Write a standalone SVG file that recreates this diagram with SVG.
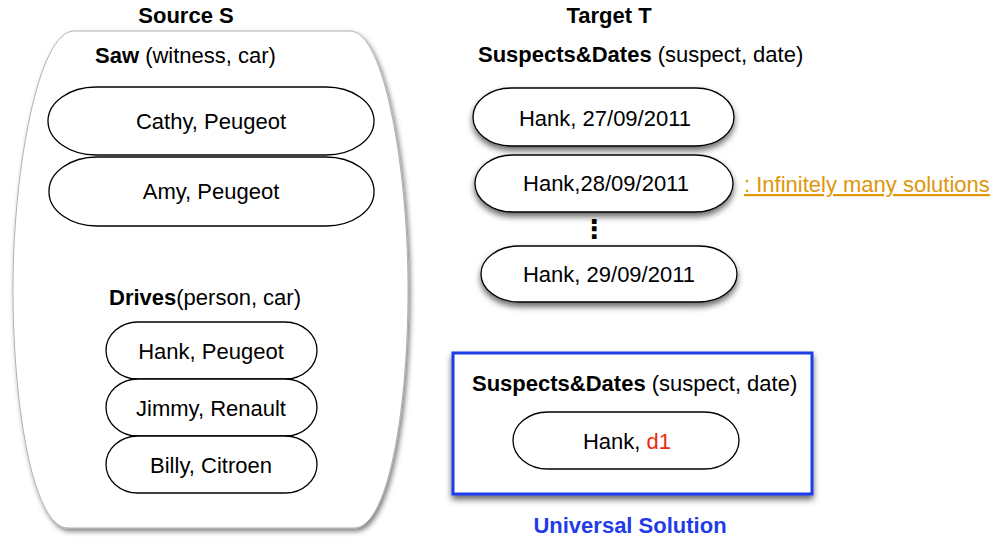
<svg xmlns="http://www.w3.org/2000/svg" width="996" height="539" viewBox="0 0 996 539">
  <style>
    text { font-family: "Liberation Sans", Arial, Helvetica, sans-serif; font-size: 22px; fill: #000; }
    .b { font-weight: bold; }
    .c { text-anchor: middle; }
    .vdots { font-family: "DejaVu Sans", sans-serif; font-weight: bold; font-size: 26px; }
    .tuple { fill: #fff; stroke: #000; stroke-width: 1.3; }
    .link { fill: #e0960a; text-decoration: underline; }
    .blue { fill: #1f3ce8; }
    .red { fill: #ee2a10; }
  </style>
  <defs>
    <filter id="softShadow" x="-10%" y="-10%" width="125%" height="125%">
      <feDropShadow dx="2" dy="3" stdDeviation="2.5" flood-color="#000" flood-opacity="0.5"/>
    </filter>
    <filter id="tupleShadow" x="-10%" y="-20%" width="120%" height="160%">
      <feDropShadow dx="0" dy="4" stdDeviation="3" flood-color="#000" flood-opacity="0.6"/>
    </filter>
  </defs>

  <!-- Source database -->
  <g id="source">
    <path d="M 74,31 H 350 C 385,31 407,170 408,280 C 409,400 390,528 354,528 H 68 C 32,528 12,400 13,280 C 14,170 38,31 74,31 Z"
          fill="#fff" stroke="#b0b0b0" stroke-width="1" filter="url(#softShadow)"/>
    <text class="b c" x="186" y="23">Source S</text>
  </g>

  <g id="saw">
    <text x="95" y="63"><tspan class="b">Saw</tspan> (witness, car)</text>
    <g id="saw-cathy">
      <rect class="tuple" x="48" y="87" width="326" height="68" rx="48" ry="34"/>
      <text class="c" x="211" y="129">Cathy, Peugeot</text>
    </g>
    <g id="saw-amy">
      <rect class="tuple" x="49" y="157" width="325" height="69" rx="48" ry="34"/>
      <text class="c" x="211" y="199">Amy, Peugeot</text>
    </g>
  </g>

  <g id="drives">
    <text x="109" y="305"><tspan class="b">Drives</tspan>(person, car)</text>
    <g id="drives-hank">
      <rect class="tuple" x="106" y="322" width="211" height="57" rx="32" ry="28.5"/>
      <text class="c" x="211" y="359">Hank, Peugeot</text>
    </g>
    <g id="drives-jimmy">
      <rect class="tuple" x="106" y="379" width="211" height="57" rx="32" ry="28.5"/>
      <text class="c" x="211" y="416">Jimmy, Renault</text>
    </g>
    <g id="drives-billy">
      <rect class="tuple" x="106" y="436" width="211" height="57" rx="32" ry="28.5"/>
      <text class="c" x="211" y="473">Billy, Citroen</text>
    </g>
  </g>

  <!-- Target database -->
  <g id="target">
    <text class="b c" x="609" y="23">Target T</text>
    <text x="478" y="62"><tspan class="b">Suspects&amp;Dates</tspan> (suspect, date)</text>
    <g id="target-27">
      <rect class="tuple" x="473" y="88" width="261" height="58" rx="38" ry="29" filter="url(#tupleShadow)"/>
      <text class="c" x="605" y="126">Hank, 27/09/2011</text>
    </g>
    <g id="target-28">
      <rect class="tuple" x="475" y="155" width="258" height="57" rx="38" ry="28.5" filter="url(#tupleShadow)"/>
      <text class="c" x="606" y="191">Hank,28/09/2011</text>
    </g>
    <text class="vdots c" x="594" y="238">⋮</text>
    <g id="target-29">
      <rect class="tuple" x="481" y="246" width="256" height="56" rx="38" ry="28" filter="url(#tupleShadow)"/>
      <text class="c" x="609" y="282">Hank, 29/09/2011</text>
    </g>
    <text class="link" x="744" y="192">: Infinitely many solutions</text>
  </g>

  <!-- Universal solution -->
  <g id="universal">
    <rect x="453" y="353" width="359" height="141" fill="#fff" stroke="#1f3ce8" stroke-width="3" filter="url(#tupleShadow)"/>
    <text x="472" y="391"><tspan class="b">Suspects&amp;Dates</tspan> (suspect, date)</text>
    <g id="universal-hank">
      <rect class="tuple" x="513" y="412" width="226" height="57" rx="35" ry="28.5"/>
      <text class="c" x="627" y="449">Hank, <tspan class="red">d1</tspan></text>
    </g>
    <text class="b c blue" x="630" y="533">Universal Solution</text>
  </g>

  <g id="connectors"/>
</svg>
